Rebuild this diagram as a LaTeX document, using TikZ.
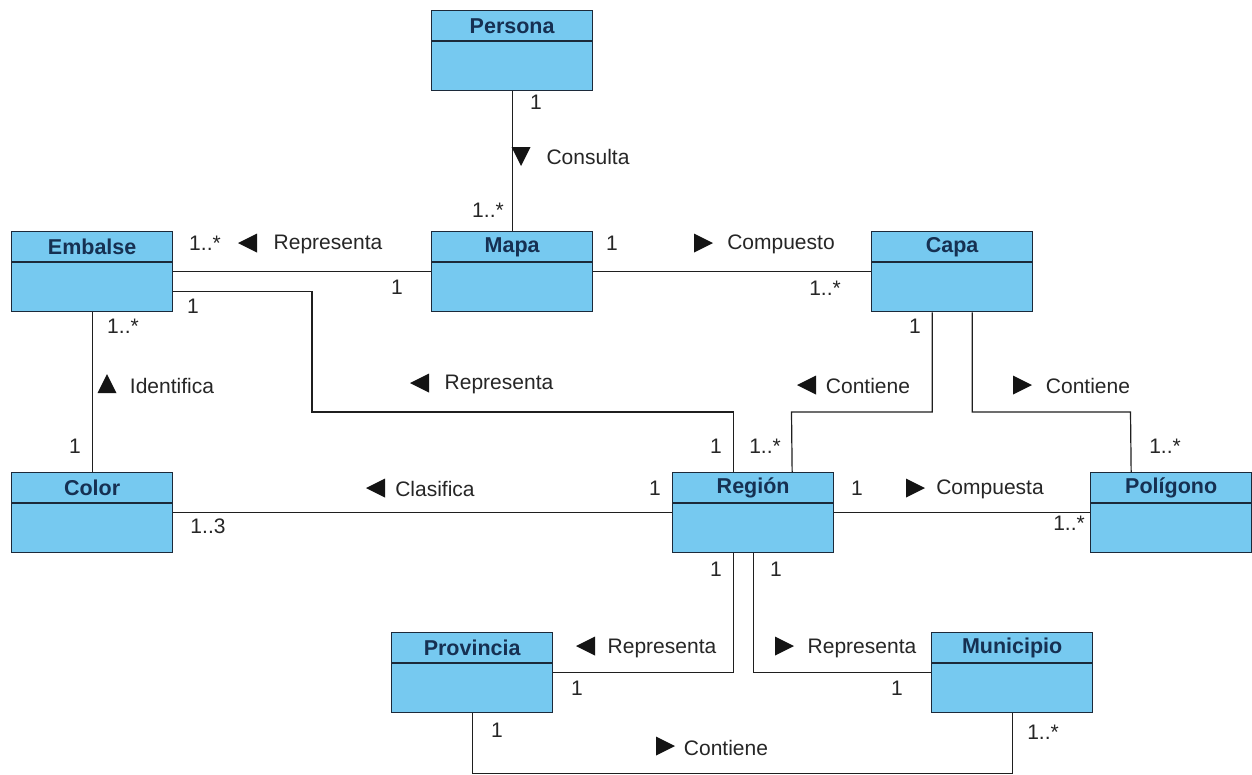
\documentclass[tikz,border=0pt]{standalone}
\usepackage{fontspec}
\setmainfont{Liberation Sans}
\definecolor{umlblue}{RGB}{118,201,240}
\definecolor{umlborder}{RGB}{28,42,58}
\definecolor{umlname}{RGB}{22,48,82}
\definecolor{umltext}{RGB}{38,38,38}
\tikzset{
  cls/.style={draw=umlborder, line width=1.3pt, fill=umlblue, minimum width=161pt,
    minimum height=80pt, anchor=north west, inner sep=0pt},
  clsname/.style={font=\bfseries\fontsize{21.5}{24}\selectfont, text=umlname, inner sep=0pt},
  lbl/.style={font=\fontsize{21}{24}\selectfont, text=umltext, inner sep=0pt},
  assoc/.style={draw=black!88, line width=1.2pt},
  navtri/.pic={\fill[black!92] (-9,-9.5) -- (10,0) -- (-9,9.5) -- cycle;}
}
% class box with a name compartment and an empty attribute compartment
\newcommand\umlclass[4]{%
  \node[cls] (#1) at (#2,#3) {};
  \draw[umlborder, line width=1.3pt] ([yshift=-31pt]#1.north west) -- ([yshift=-31pt]#1.north east);
  \node[clsname] (#1-title) at ([yshift=-16pt]#1.north) {#4};
}
\begin{document}
\begin{tikzpicture}[x=1pt, y=-1pt]
\useasboundingbox[fill=white] (0,0) rectangle (1252,774);

% classes
\umlclass{persona}{431}{10}{Persona}
\umlclass{embalse}{11}{231}{Embalse}
\umlclass{mapa}{431}{231}{Mapa}
\umlclass{capa}{871}{231}{Capa}
\umlclass{color}{11}{472}{Color}
\umlclass{region}{672}{472}{Región}
\umlclass{poligono}{1090}{472}{Polígono}
\umlclass{provincia}{391}{632}{Provincia}
\umlclass{municipio}{931}{632}{Municipio}

% bend points
\coordinate (b1) at (312,412);
\coordinate (b2) at (791.5,412);
\coordinate (b3) at (1130.5,412);

% associations
\draw[assoc] (persona.south) -- (mapa.north);
\draw[assoc] (embalse.east) -- (mapa.west);
\draw[assoc] (mapa.east) -- (capa.west);
\draw[assoc] (embalse.south) -- (color.north);
\draw[assoc] (color.east) -- (region.west);
\draw[assoc] (region.east) -- (poligono.west);
\draw[assoc] ([yshift=-20pt]embalse.east) -| (b1) -| ([xshift=-20pt]region.north);
\draw[assoc] ([xshift=-20pt]capa.south) |- (b2) -- ([xshift=39pt]region.north);
\draw[assoc] ([xshift=20pt]capa.south) |- (b3) -- ([xshift=-40pt]poligono.north);
\draw[assoc] ([xshift=-20pt]region.south) |- (provincia.east);
\draw[assoc] (region.south) |- (municipio.west);
\draw[assoc] (provincia.south) -- ++(0,60) -| (municipio.south);

% Persona - Mapa
\node[lbl] (pm1) at (536,102) {1};
\pic[rotate=-90] at (521,156) {navtri};
\node[lbl] (pmn) at (588,157) {Consulta};
\node[lbl] (pm2) at (488,210) {1..*};

% Embalse - Mapa
\node[lbl] (em1) at (205,243) {1..*};
\pic[rotate=180] at (248,243) {navtri};
\node[lbl] (emn) at (328,244) {Representa};
\node[lbl] (em2) at (397,287) {1};

% Mapa - Capa
\node[lbl] (mc1) at (612,243) {1};
\pic at (703,243) {navtri};
\node[lbl] (mcn) at (781,244) {Compuesto};
\node[lbl] (mc2) at (825,288) {1..*};

% Embalse - Color
\node[lbl] (ec1) at (123,326) {1..*};
\pic[rotate=90] at (107,384) {navtri};
\node[lbl] (ecn) at (172,386) {Identifica};
\node[lbl] (ec2) at (75,446) {1};

% Embalse - Región
\node[lbl] (er1) at (193,306) {1};
\pic[rotate=180] at (420,383) {navtri};
\node[lbl] (ern) at (499,384) {Representa};
\node[lbl] (er2) at (716,446) {1};

% Capa - Región
\node[lbl] (cr1) at (915,326) {1};
\pic[rotate=180] at (807,385) {navtri};
\node[lbl] (crn) at (868,386) {Contiene};
\node[lbl] (cr2) at (765,446) {1..*};

% Capa - Polígono
\pic at (1022,385) {navtri};
\node[lbl] (cpn) at (1088,386) {Contiene};
\node[lbl] (cp2) at (1165,446) {1..*};

% Color - Región
\node[lbl] (cl1) at (208,526) {1..3};
\pic[rotate=180] at (376,488) {navtri};
\node[lbl] (cln) at (435,489) {Clasifica};
\node[lbl] (cl2) at (655,488) {1};

% Región - Polígono
\node[lbl] (rp1) at (857,488) {1};
\pic at (915,488) {navtri};
\node[lbl] (rpn) at (990,489) {Compuesta};
\node[lbl] (rp2) at (1069,523) {1..*};

% Región - Provincia
\node[lbl] (rv1) at (716,569) {1};
\pic[rotate=180] at (586,646) {navtri};
\node[lbl] (rvn) at (662,648) {Representa};
\node[lbl] (rv2) at (577,688) {1};

% Región - Municipio
\node[lbl] (ru1) at (776,569) {1};
\pic at (784,646) {navtri};
\node[lbl] (run) at (862,648) {Representa};
\node[lbl] (ru2) at (897,688) {1};

% Provincia - Municipio
\node[lbl] (pu1) at (497,730) {1};
\pic at (665,746) {navtri};
\node[lbl] (pun) at (726,748) {Contiene};
\node[lbl] (pu2) at (1043,732) {1..*};
\end{tikzpicture}
\end{document}
